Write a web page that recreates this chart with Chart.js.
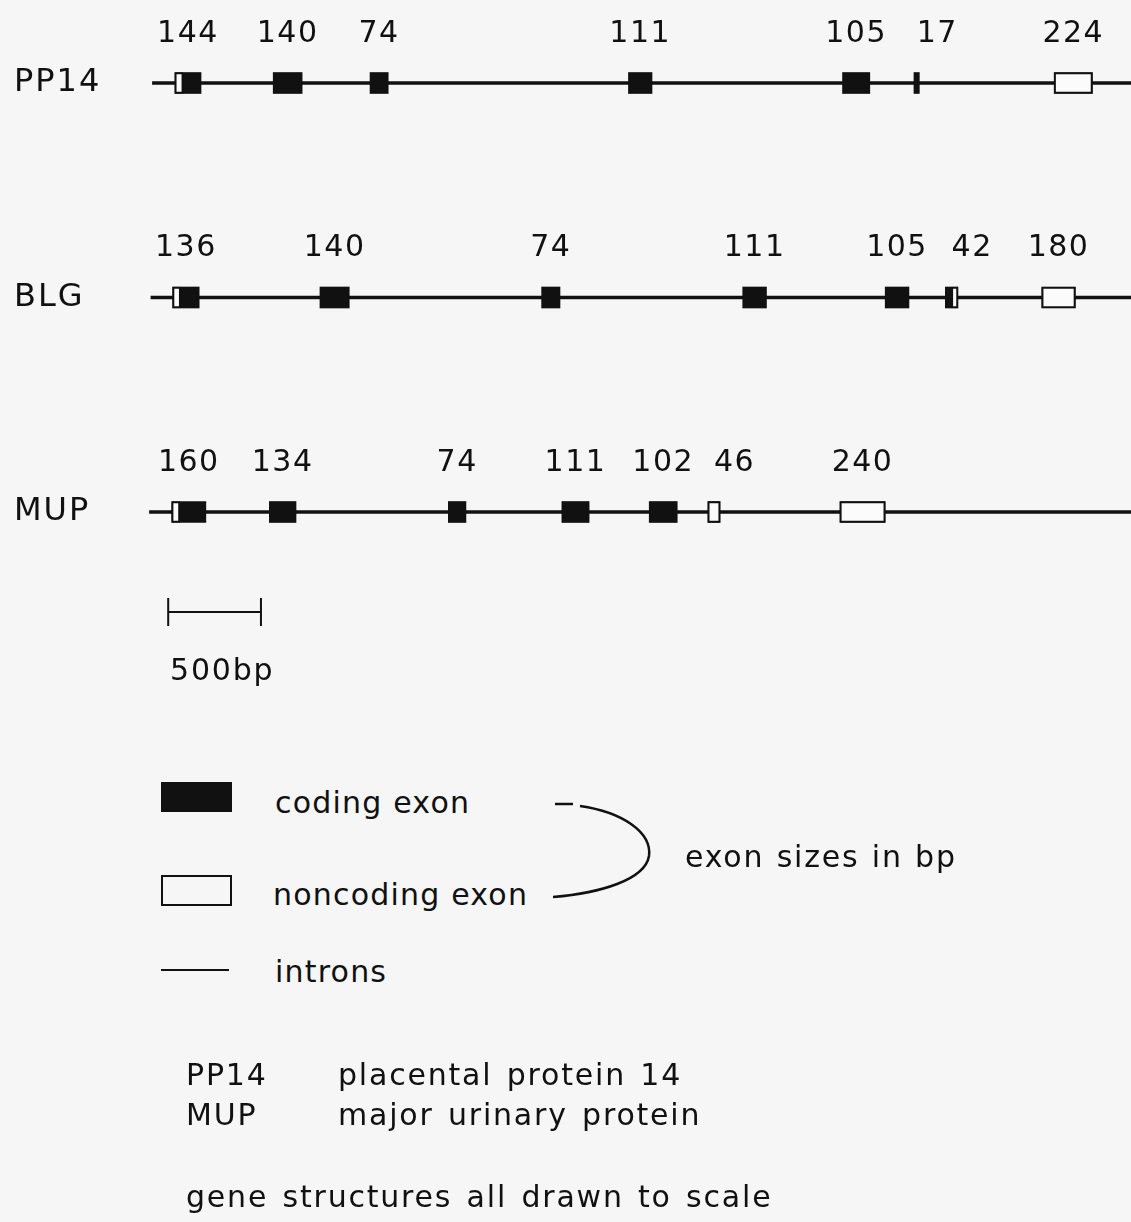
<!DOCTYPE html>
<html>
<head>
<meta charset="utf-8">
<title>Gene structures</title>
<script src="https://cdn.jsdelivr.net/npm/chart.js@4/dist/chart.umd.min.js"></script>
<style>
	body { margin: 0; background: #f6f6f6; }
	#page { position: relative; width: 1131px; height: 1222px; font-family: 'DejaVu Sans', sans-serif; color: #111; letter-spacing: 1.8px; word-spacing: 3px; overflow: hidden; }
	#geneChart { position: absolute; left: 0; top: 0; }
	.t { position: absolute; font-size: 30px; line-height: 30px; white-space: nowrap; }
	.key { letter-spacing: 1.2px; word-spacing: 0; }
	.swatch { position: absolute; box-sizing: border-box; }
	#brace { position: absolute; left: 0; top: 0; }
</style>
</head>
<body>
<div id="page">
	<canvas id="geneChart" width="1131" height="700"></canvas>

	<div class="t" style="left:170px; top:655px;">500bp</div>

	<div class="swatch" style="left:161px; top:782px; width:71px; height:30px; background:#111;"></div>
	<div class="t key" style="left:275px; top:788px;">coding exon</div>
	<div class="swatch" style="left:161px; top:875px; width:71px; height:31px; border:2px solid #111;"></div>
	<div class="t key" style="left:273px; top:880px;">noncoding exon</div>
	<div class="swatch" style="left:161px; top:969px; width:68px; height:2px; background:#111;"></div>
	<div class="t key" style="left:275px; top:957px;">introns</div>

	<svg id="brace" width="1131" height="1222">
		<path d="M555 804 L573 804" stroke="#111" stroke-width="2.5" fill="none"/>
		<path d="M580 806 C 622 812, 652 832, 649 856 C 645 880, 600 893, 553 897" stroke="#111" stroke-width="2.5" fill="none"/>
	</svg>
	<div class="t" style="left:685px; top:842px; word-spacing:1px;">exon sizes in bp</div>

	<div class="t" style="left:186px; top:1060px;">PP14</div>
	<div class="t" style="left:338px; top:1060px;">placental protein 14</div>
	<div class="t" style="left:186px; top:1100px;">MUP</div>
	<div class="t" style="left:338px; top:1100px;">major urinary protein</div>

	<div class="t" style="left:186px; top:1182px;">gene structures all drawn to scale</div>
</div>

<script>
	// positions in bp from the start of each gene
	const genes = ['PP14', 'BLG', 'MUP'];

	const pp14Exons = [[129, 270], [659, 815], [1181, 1279], [2574, 2701], [3728, 3875], [4113, 4142], [4869, 5075]];
	const pp14Noncoding = [[129, 174], [4869, 5075]];
	const pp14Sizes = [144, 140, 74, 111, 105, 17, 224];

	const blgExons = [[117, 260], [911, 1069], [2106, 2205], [3190, 3318], [3958, 4086], [4282, 4350], [4802, 4983]];
	const blgNoncoding = [[117, 160], [4315, 4350], [4802, 4983]];
	const blgSizes = [136, 140, 74, 111, 105, 42, 180];

	const mupExons = [[112, 296], [638, 782], [1603, 1698], [2215, 2362], [2686, 2837], [3002, 3068], [3714, 3958]];
	const mupNoncoding = [[112, 156], [3002, 3068], [3714, 3958]];
	const mupSizes = [160, 134, 74, 111, 102, 46, 240];

	const intronSpans = [[8, 5400], [0, 5400], [-8, 5400]];

	const scaleBarStart = 93;
	const scaleBarLength = 500;

	const geneExons = [pp14Exons, blgExons, mupExons];
	const geneNoncoding = [pp14Noncoding, blgNoncoding, mupNoncoding];
	const geneSizes = [pp14Sizes, blgSizes, mupSizes];

	function toBars(spansByGene) {
		return spansByGene.flatMap((spans, i) => spans.map((span) => ({ x: span, y: genes[i] })));
	}

	const ink = '#111';

	const exonSizesPlugin = {
		id: 'exonSizes',
		beforeDraw(chart) {
			chart.ctx.letterSpacing = '2px';
		},
		afterDatasetsDraw(chart) {
			const { ctx, scales: { x, y } } = chart;
			ctx.save();
			ctx.font = '30px "DejaVu Sans"';
			ctx.letterSpacing = '1.5px';
			ctx.fillStyle = ink;
			ctx.textBaseline = 'middle';

			geneExons.forEach((exons, i) => {
				const labelY = y.getPixelForValue(i) - 49;
				exons.forEach(([start, end], j) => {
					const left = x.getPixelForValue(start);
					const right = x.getPixelForValue(end);
					// labels of very short exons start at the exon instead of centring on it
					ctx.textAlign = right - left < 16 ? 'left' : 'center';
					ctx.fillText(String(geneSizes[i][j]), (left + right) / 2, labelY);
				});
			});

			// 500 bp scale bar
			const barY = y.getPixelForValue(genes.length - 1) + 100;
			const x0 = x.getPixelForValue(scaleBarStart);
			const x1 = x.getPixelForValue(scaleBarStart + scaleBarLength);
			ctx.strokeStyle = ink;
			ctx.lineWidth = 2;
			ctx.beginPath();
			ctx.moveTo(x0, barY);
			ctx.lineTo(x1, barY);
			ctx.moveTo(x0, barY - 14);
			ctx.lineTo(x0, barY + 14);
			ctx.moveTo(x1, barY - 14);
			ctx.lineTo(x1, barY + 14);
			ctx.stroke();
			ctx.restore();
		}
	};

	new Chart(document.getElementById('geneChart'), {
		type: 'bar',
		data: {
			datasets: [
				{
					label: 'noncoding exon',
					data: toBars(geneNoncoding),
					backgroundColor: '#fbfbfb',
					borderColor: ink,
					borderWidth: 2,
					borderSkipped: false,
					barThickness: 21,
					grouped: false,
					clip: false,
					order: 1
				},
				{
					label: 'coding exon',
					data: toBars(geneExons),
					backgroundColor: ink,
					barThickness: 21,
					grouped: false,
					clip: false,
					order: 2
				},
				{
					label: 'introns',
					data: toBars(intronSpans.map((span) => [span])),
					backgroundColor: ink,
					barThickness: 2.6,
					grouped: false,
					clip: false,
					order: 3
				}
			]
		},
		options: {
			indexAxis: 'y',
			responsive: false,
			animation: false,
			events: [],
			layout: {
				padding: { left: 14, top: 83, right: 0, bottom: 188 }
			},
			plugins: {
				legend: { display: false },
				tooltip: { enabled: false }
			},
			scales: {
				x: {
					type: 'linear',
					min: -59,
					max: 5283,
					display: false
				},
				y: {
					type: 'category',
					labels: genes,
					offset: false,
					grid: { display: false },
					border: { display: false },
					ticks: {
						color: ink,
						font: { family: 'DejaVu Sans', size: 32 },
						crossAlign: 'far',
						padding: 0
					},
					afterFit: function(scale) {
						scale.width = 126;
					}
				}
			}
		},
		plugins: [exonSizesPlugin]
	});
</script>
</body>
</html>
